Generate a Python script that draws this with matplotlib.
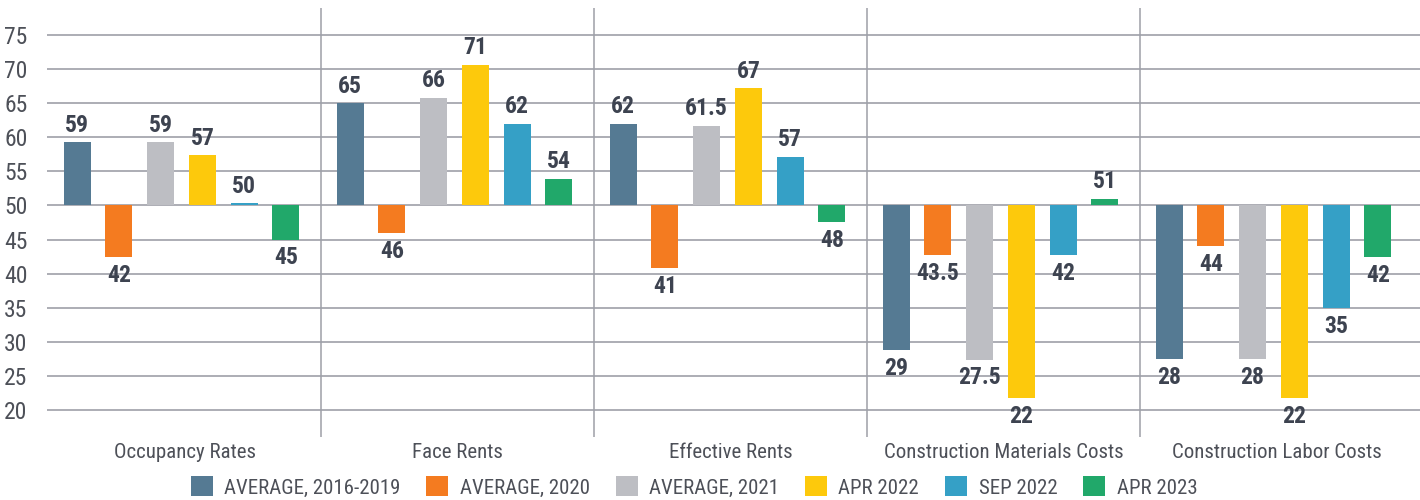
import matplotlib
matplotlib.use('Agg')
import matplotlib.pyplot as plt
from matplotlib import font_manager
import numpy as np

# pick the narrowest installed family (reference uses a condensed face)
avail = {f.name for f in font_manager.fontManager.ttflist}
dejavu_cond = any(f.name == 'DejaVu Sans' and 'condensed' in str(f.stretch)
                  for f in font_manager.fontManager.ttflist)
family = 'Roboto'
for cand in ['Roboto Condensed', 'Liberation Sans Narrow', 'Open Sans Condensed']:
    if cand in avail:
        family = cand
        break
else:
    if dejavu_cond:
        family = 'DejaVu Sans'
        plt.rcParams['font.stretch'] = 'condensed'
plt.rcParams['font.family'] = [family, 'DejaVu Sans']

categories = ['Occupancy Rates', 'Face Rents', 'Effective Rents',
              'Construction Materials Costs', 'Construction Labor Costs']
series = ['AVERAGE, 2016-2019', 'AVERAGE, 2020', 'AVERAGE, 2021',
          'APR 2022', 'SEP 2022', 'APR 2023']
colors = ['#557a93', '#f47b20', '#bdbec3', '#fdc90c', '#35a0c6', '#21a86a']

# bar values as drawn, one list per series
avg_2016_2019 = [59.25, 65.0, 62.0, 28.8, 27.5]
avg_2020 = [42.5, 46.0, 40.85, 42.7, 44.0]
avg_2021 = [59.25, 65.8, 61.7, 27.4, 27.5]
apr_2022 = [57.35, 70.6, 67.2, 21.7, 21.7]
sep_2022 = [50.3, 62.0, 57.15, 42.7, 34.9]
apr_2023 = [45.0, 53.9, 47.6, 51.0, 42.4]

# labels printed on the bars
lab_2016_2019 = ['59', '65', '62', '29', '28']
lab_2020 = ['42', '46', '41', '43.5', '44']
lab_2021 = ['59', '66', '61.5', '27.5', '28']
lab_apr_2022 = ['57', '71', '67', '22', '22']
lab_sep_2022 = ['50', '62', '57', '42', '35']
lab_apr_2023 = ['45', '54', '48', '51', '42']

values = [avg_2016_2019, avg_2020, avg_2021, apr_2022, sep_2022, apr_2023]
labels = [lab_2016_2019, lab_2020, lab_2021, lab_apr_2022, lab_sep_2022, lab_apr_2023]

base = 50
fig = plt.figure(figsize=(14.2, 5.0), dpi=100)
ax = fig.add_axes([47 / 1420, 63 / 500, 1373 / 1420, 429 / 500])

x = np.arange(len(categories))
step = 0.153
width = 0.099
for i, (vals, labs) in enumerate(zip(values, labels)):
    pos = x + (i - 2.5) * step - 0.011
    h = np.array(vals) - base
    ax.bar(pos, h, width, bottom=base, color=colors[i], label=series[i], zorder=3)
    for p, v, t in zip(pos, vals, labs):
        if v >= base:
            ax.annotate(t, (p, v), xytext=(0, 4), textcoords='offset points',
                        ha='center', va='bottom', fontsize=17, fontweight='bold',
                        color='#3d4350')
        else:
            ax.annotate(t, (p, v), xytext=(0, -5), textcoords='offset points',
                        ha='center', va='top', fontsize=17, fontweight='bold',
                        color='#3d4350')

ax.set_xlim(-0.5037, 4.5256)
ax.set_ylim(16.04, 78.96)
ax.set_yticks(range(20, 80, 5))
ax.grid(axis='y', color='#9ea0a8', linewidth=1.2, zorder=0)
for s in [0.5, 1.5, 2.5, 3.5]:
    ax.axvline(s, color='#a5a7ae', linewidth=1.2, zorder=1)
for sp in ax.spines.values():
    sp.set_visible(False)

ax.set_xticks(x)
ax.set_xticklabels(categories)
ax.tick_params(axis='y', length=0, pad=14, labelsize=17, labelcolor='#4d5058')
ax.tick_params(axis='x', length=0, pad=4, labelsize=15, labelcolor='#4d5058')

leg = fig.legend(loc='center', bbox_to_anchor=(694 / 1420, 1 - 487 / 500), ncol=6,
                 frameon=False, fontsize=15, handlelength=1.05, handleheight=1.1,
                 handletextpad=0.55, columnspacing=1.25, borderaxespad=0)
for t in leg.get_texts():
    t.set_color('#4d5058')

fig.savefig('out.png', dpi=100)
